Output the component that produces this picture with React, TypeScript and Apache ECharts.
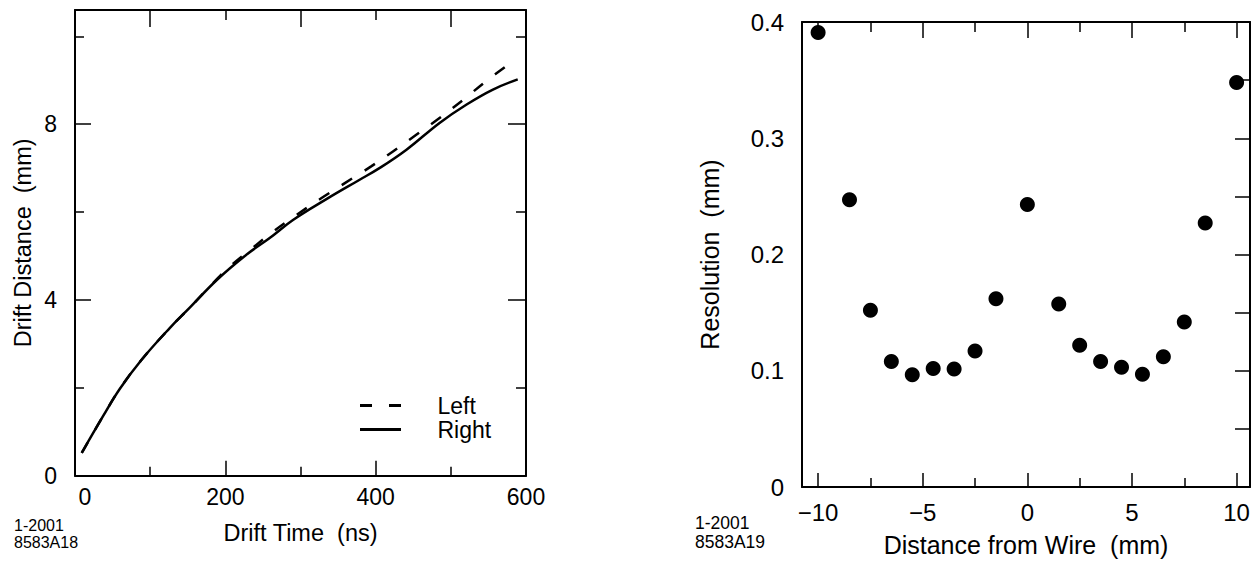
import React, { useEffect, useRef } from 'react';
import * as echarts from 'echarts';

// ---- data ----
const rightTime = [9, 37.5, 59.7, 88.6, 126, 153, 189, 228, 259, 290, 335, 377, 405, 441, 485, 521, 556, 589];
const rightDist = [0.52, 1.36, 1.98, 2.64, 3.36, 3.83, 4.46, 5.03, 5.41, 5.82, 6.3, 6.72, 7.0, 7.42, 8.03, 8.45, 8.79, 9.02];
const leftTime = [9, 37.5, 59.7, 88.6, 126, 153, 189, 204, 233, 264, 295, 328, 359, 394, 423, 454, 485, 516, 547, 584];
const leftDist = [0.52, 1.36, 1.98, 2.64, 3.36, 3.83, 4.48, 4.73, 5.14, 5.56, 5.94, 6.32, 6.66, 7.04, 7.38, 7.76, 8.14, 8.55, 8.98, 9.45];

const wirePos = [-10, -8.5, -7.5, -6.5, -5.5, -4.5, -3.5, -2.5, -1.5, 0, 1.5, 2.5, 3.5, 4.5, 5.5, 6.5, 7.5, 8.5, 10];
const resolution = [0.391, 0.247, 0.152, 0.108, 0.0965, 0.102, 0.1015, 0.117, 0.162, 0.243, 0.1575, 0.122, 0.108, 0.103, 0.097, 0.112, 0.142, 0.227, 0.348];

const timeTicks = [0, 200, 400, 600];
const timeMinor = [100, 300, 500];
const distTicks = [0, 4, 8];
const distMinor = [2, 6, 10];
const posTicks = [-10, -5, 0, 5, 10];
const posMinor = [-7.5, -2.5, 2.5, 7.5];
const resTicks = [0, 0.1, 0.2, 0.3, 0.4];
const resSideTicks = [0.05, 0.1, 0.15, 0.2, 0.25, 0.3, 0.35];

const FONT = '"Liberation Sans", Arial, Helvetica, sans-serif';
const BLACK = '#000';

const DASH_ICON = 'path://M0,0H12V3H0Z M29,0H41V3H29Z';
const SOLID_ICON = 'path://M0,0H41V3H0Z';

function tickAxis(opts: any) {
  const { gridIndex, position, min, max, ticks, length, showLine } = opts;
  return {
    type: 'value',
    gridIndex,
    position,
    min,
    max,
    axisLine: { show: !!showLine, onZero: false, lineStyle: { color: BLACK, width: 2 } },
    axisTick: { show: ticks.length > 0, inside: true, length, customValues: ticks, lineStyle: { color: BLACK, width: 1.5 } },
    axisLabel: { show: false },
    splitLine: { show: false },
  };
}

export default function App() {
  const ref = useRef<HTMLDivElement>(null);

  useEffect(() => {
    if (!ref.current) return;
    const chart = echarts.init(ref.current, undefined, { renderer: 'svg' });

    const option: any = {
      animation: false,
      textStyle: { fontFamily: FONT, color: BLACK },
      grid: [
        { left: 75, top: 10, width: 451, height: 465.7 },
        { left: 802, top: 22, width: 448, height: 465.7 },
      ],
      legend: {
        data: [
          { name: 'Left', icon: DASH_ICON },
          { name: 'Right', icon: SOLID_ICON },
        ],
        orient: 'vertical',
        left: 360,
        top: 394,
        padding: 0,
        itemWidth: 42,
        itemHeight: 3,
        itemGap: 1,
        selectedMode: false,
        itemStyle: { color: BLACK, borderWidth: 0 },
        textStyle: { fontSize: 23, color: BLACK, fontFamily: FONT, padding: [0, 0, 0, 31], lineHeight: 22 },
      },
      xAxis: [
        {
          type: 'value',
          gridIndex: 0,
          position: 'bottom',
          min: 0,
          max: 600,
          axisLine: { show: true, onZero: false, lineStyle: { color: BLACK, width: 2 } },
          axisTick: { show: true, inside: true, length: 15, customValues: timeTicks, lineStyle: { color: BLACK, width: 1.5 } },
          axisLabel: {
            show: true,
            customValues: timeTicks,
            fontSize: 23,
            color: BLACK,
            fontFamily: FONT,
            margin: 10,
            formatter: (v: number) => (v === 0 ? '{z|0}' : String(v)),
            rich: { z: { fontSize: 23, color: BLACK, fontFamily: FONT, padding: [0, 0, 0, 20] } },
          },
          splitLine: { show: false },
          name: 'Drift Time  (ns)',
          nameLocation: 'middle',
          nameGap: 45,
          nameTextStyle: { fontSize: 23.5, color: BLACK, fontFamily: FONT },
        },
        tickAxis({ gridIndex: 0, position: 'bottom', min: 0, max: 600, ticks: timeMinor, length: 9 }),
        tickAxis({ gridIndex: 0, position: 'top', min: 0, max: 600, ticks: [200, 400], length: 10, showLine: true }),
        tickAxis({ gridIndex: 0, position: 'top', min: 0, max: 600, ticks: timeMinor, length: 17 }),
        {
          type: 'value',
          gridIndex: 1,
          position: 'bottom',
          min: -10.77,
          max: 10.64,
          axisLine: { show: true, onZero: false, lineStyle: { color: BLACK, width: 2 } },
          axisTick: { show: true, inside: true, length: 14, customValues: posTicks, lineStyle: { color: BLACK, width: 1.5 } },
          axisLabel: {
            show: true,
            customValues: posTicks,
            fontSize: 24,
            color: BLACK,
            fontFamily: FONT,
            margin: 13,
            formatter: (v: number) => (v < 0 ? '\u2212' + Math.abs(v) : String(v)),
          },
          splitLine: { show: false },
          name: 'Distance from Wire  (mm)',
          nameLocation: 'middle',
          nameGap: 45,
          nameTextStyle: { fontSize: 25, color: BLACK, fontFamily: FONT },
        },
        tickAxis({ gridIndex: 1, position: 'bottom', min: -10.77, max: 10.64, ticks: posMinor, length: 9 }),
        tickAxis({ gridIndex: 1, position: 'top', min: -10.77, max: 10.64, ticks: posTicks, length: 16, showLine: true }),
        tickAxis({ gridIndex: 1, position: 'top', min: -10.77, max: 10.64, ticks: posMinor, length: 10 }),
      ],
      yAxis: [
        {
          type: 'value',
          gridIndex: 0,
          position: 'left',
          min: 0,
          max: 10.6,
          axisLine: { show: true, onZero: false, lineStyle: { color: BLACK, width: 2 } },
          axisTick: { show: true, inside: true, length: 16, customValues: distTicks, lineStyle: { color: BLACK, width: 1.5 } },
          axisLabel: { show: true, customValues: distTicks, fontSize: 23, color: BLACK, fontFamily: FONT, margin: 18 },
          splitLine: { show: false },
          name: 'Drift Distance  (mm)',
          nameLocation: 'middle',
          nameGap: 40,
          nameTextStyle: { fontSize: 23.5, color: BLACK, fontFamily: FONT },
        },
        tickAxis({ gridIndex: 0, position: 'left', min: 0, max: 10.6, ticks: distMinor, length: 9 }),
        tickAxis({ gridIndex: 0, position: 'right', min: 0, max: 10.6, ticks: [4, 8], length: 18, showLine: true }),
        tickAxis({ gridIndex: 0, position: 'right', min: 0, max: 10.6, ticks: distMinor, length: 10 }),
        {
          type: 'value',
          gridIndex: 1,
          position: 'left',
          min: 0,
          max: 0.4,
          axisLine: { show: true, onZero: false, lineStyle: { color: BLACK, width: 2 } },
          axisTick: { show: false },
          axisLabel: {
            show: true,
            customValues: resTicks,
            fontSize: 24,
            color: BLACK,
            fontFamily: FONT,
            margin: 18,
            formatter: (v: number) => (v === 0 ? '0' : v.toFixed(1)),
          },
          splitLine: { show: false },
          name: 'Resolution  (mm)',
          nameLocation: 'middle',
          nameGap: 80,
          nameTextStyle: { fontSize: 25, color: BLACK, fontFamily: FONT },
        },
        tickAxis({ gridIndex: 1, position: 'right', min: 0, max: 0.4, ticks: resSideTicks, length: 15, showLine: true }),
      ],
      series: [
        {
          name: 'Left',
          type: 'line',
          xAxisIndex: 0,
          yAxisIndex: 0,
          data: leftTime.map((t, i) => [t, leftDist[i]]),
          smooth: 0.4,
          symbol: 'none',
          lineStyle: { color: BLACK, width: 2.5, type: [12, 15] },
          itemStyle: { color: BLACK },
        },
        {
          name: 'Right',
          type: 'line',
          xAxisIndex: 0,
          yAxisIndex: 0,
          data: rightTime.map((t, i) => [t, rightDist[i]]),
          smooth: 0.4,
          symbol: 'none',
          lineStyle: { color: BLACK, width: 2.5, type: 'solid' },
          itemStyle: { color: BLACK },
        },
        {
          name: 'Resolution',
          type: 'scatter',
          xAxisIndex: 4,
          yAxisIndex: 4,
          data: wirePos.map((x, i) => [x, resolution[i]]),
          symbol: 'circle',
          symbolSize: 15,
          itemStyle: { color: BLACK, opacity: 1 },
        },
      ],
      graphic: [
        {
          type: 'text',
          left: 14,
          top: 517,
          style: { text: '1-2001\n8583A18', fontSize: 16, lineHeight: 17, fill: BLACK, font: `16px ${FONT}` },
        },
        {
          type: 'text',
          left: 695,
          top: 513,
          style: { text: '1-2001\n8583A19', fontSize: 17.5, lineHeight: 19, fill: BLACK, font: `17.5px ${FONT}` },
        },
      ],
    };

    chart.setOption(option);
    return () => chart.dispose();
  }, []);

  return (
    <div
      ref={ref}
      style={{ position: 'fixed', left: 0, top: 0, width: 1255, height: 562, background: '#fff' }}
    />
  );
}
